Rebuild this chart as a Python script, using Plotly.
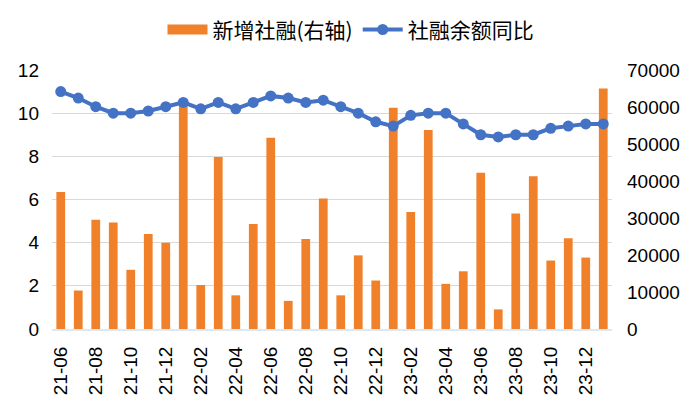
import plotly.graph_objects as go

months = ["21-06","21-07","21-08","21-09","21-10","21-11","21-12",
          "22-01","22-02","22-03","22-04","22-05","22-06","22-07","22-08","22-09","22-10","22-11","22-12",
          "23-01","23-02","23-03","23-04","23-05","23-06","23-07","23-08","23-09","23-10","23-11","23-12",
          "24-01"]
new_tsf = [37000, 10400, 29500, 28800, 16000, 25700, 23300,
           61700, 11900, 46500, 9100, 28400, 51700, 7600, 24300, 35300, 9100, 19900, 13100,
           59800, 31600, 53800, 12200, 15600, 42200, 5300, 31200, 41300, 18500, 24500, 19300,
           65000]
tsf_yoy = [11.0, 10.7, 10.3, 10.0, 10.0, 10.1, 10.3,
           10.5, 10.2, 10.5, 10.2, 10.5, 10.8, 10.7, 10.5, 10.6, 10.3, 10.0, 9.6,
           9.4, 9.9, 10.0, 10.0, 9.5, 9.0, 8.9, 9.0, 9.0, 9.3, 9.4, 9.5,
           9.5]
left_ticks = [0, 2, 4, 6, 8, 10, 12]
right_ticks = [0, 10000, 20000, 30000, 40000, 50000, 60000, 70000]
x_ticks = months[::2]

FONT = "Liberation Sans, Arial, Noto Sans CJK SC, sans-serif"
CJK = "Noto Sans CJK SC, Liberation Sans, sans-serif"
ORANGE = "#F0802A"
BLUE = "#4472C4"

fig = go.Figure()
fig.add_trace(go.Bar(x=months, y=new_tsf, name="新增社融(右轴)",
                     marker=dict(color=ORANGE, line=dict(width=0)),
                     yaxis="y", showlegend=False))
# legend-only entry drawn as a wide orange block (like the reference)
fig.add_trace(go.Scatter(x=[None], y=[None], name="新增社融(右轴)",
                         mode="lines", line=dict(color=ORANGE, width=12),
                         yaxis="y", hoverinfo="skip"))
fig.add_trace(go.Scatter(x=months, y=tsf_yoy, name="社融余额同比",
                         mode="lines+markers",
                         line=dict(color=BLUE, width=4),
                         marker=dict(color=BLUE, size=11),
                         yaxis="y2"))

fig.update_layout(
    width=700, height=420,
    margin=dict(l=44, r=96, t=62, b=99, autoexpand=False),
    paper_bgcolor="white", plot_bgcolor="white",
    bargap=0.5,
    font=dict(family=FONT, size=19, color="#000000"),
    showlegend=True,
    legend=dict(orientation="h", xref="container", yref="container",
                x=0.49, xanchor="center", y=0.948, yanchor="middle",
                font=dict(family=CJK, size=21, color="#000000"),
                itemwidth=40, traceorder="normal", tracegroupgap=0),
    xaxis=dict(type="category", range=[-0.5, len(months) - 0.5],
               tickmode="array", tickvals=x_ticks, ticktext=x_ticks,
               tickangle=-90, showgrid=False, showline=True, linecolor="#DDE8F5",
               linewidth=2, ticks="", tickfont=dict(size=19), automargin=False,
               ticklabelstandoff=8),
    yaxis=dict(side="right", range=[0, 70000], tickvals=right_ticks,
               ticktext=[str(v) for v in right_ticks],
               showgrid=False, zeroline=False, ticks="", showline=False,
               tickfont=dict(size=19), automargin=False, ticklabelstandoff=14),
    yaxis2=dict(side="left", overlaying="y", range=[0, 12], tickvals=left_ticks,
                showgrid=True, gridcolor="#D9D9D9", gridwidth=1, zeroline=False,
                ticks="", showline=False, tickfont=dict(size=19), automargin=False,
                ticklabelstandoff=12),
)

fig.write_html("out.html")
